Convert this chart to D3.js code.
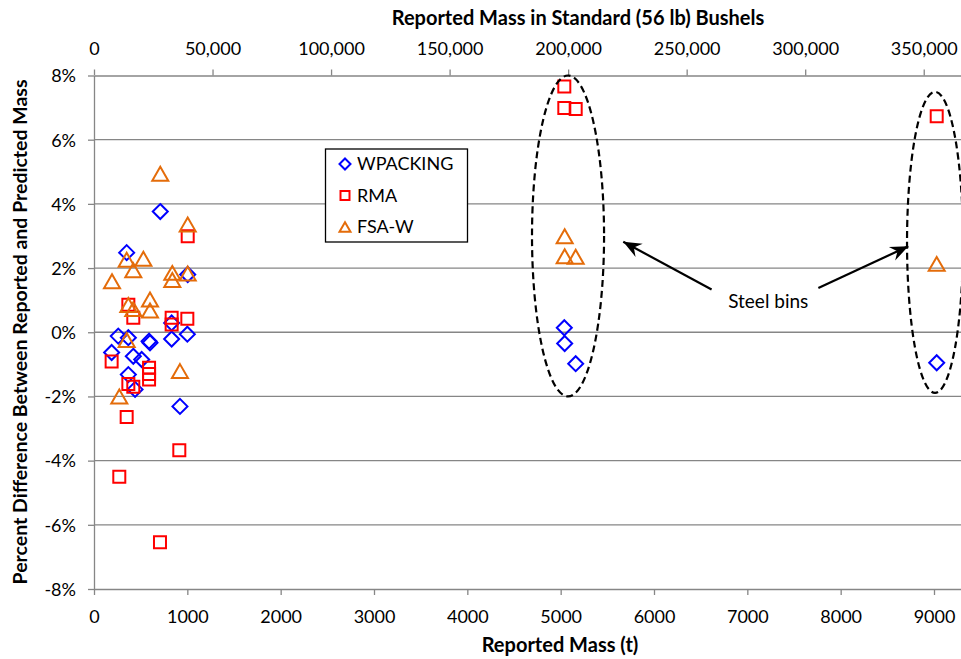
<!DOCTYPE html>
<html>
<head>
<meta charset="utf-8">
<script src="https://cdn.jsdelivr.net/npm/d3@7"></script>
<style>
  body { margin: 0; background: #fff; }
  text { font-family: Lato, "Open Sans", sans-serif; fill: #000; }
  .tick line, .domain { stroke: #868686; stroke-width: 1.3; }
</style>
</head>
<body>
<svg id="chart"></svg>
<script>
// ── Data: [reported mass (t), % difference reported vs predicted] ───────────
const wpacking = [
  [710, 3.76], [350, 2.48], [1004, 1.80], [832, 0.29], [832, -0.21],
  [1000, -0.06], [260, -0.12], [368, -0.17], [590, -0.28], [600, -0.33],
  [189, -0.63], [421, -0.75], [511, -0.85], [368, -1.32], [440, -1.78],
  [921, -2.31],
  [5039, 0.14], [5043, -0.35], [5161, -0.98], [9029, -0.95]
];
const rma = [
  [1004, 2.99], [368, 0.86], [421, 0.45], [832, 0.45], [832, 0.24],
  [1000, 0.42], [189, -0.91], [590, -1.11], [590, -1.30], [590, -1.47],
  [368, -1.61], [421, -1.70], [350, -2.64], [914, -3.68], [271, -4.50],
  [707, -6.54],
  [5039, 7.66], [5039, 6.99], [5161, 6.96], [9029, 6.73]
];
const fsaw = [
  [710, 4.94], [1004, 3.36], [350, 2.26], [529, 2.29], [421, 1.93],
  [193, 1.59], [839, 1.85], [839, 1.63], [1004, 1.83], [368, 0.85],
  [421, 0.72], [600, 1.02], [600, 0.68], [350, -0.24], [921, -1.21],
  [271, -2.00],
  [5043, 2.99], [5043, 2.37], [5161, 2.35], [9029, 2.13]
];

const xTicks     = d3.range(0, 9001, 1000);
const bushelTicks = d3.range(0, 350001, 50000);
const yTicks     = d3.range(-8, 9, 2);
const T_PER_BUSHEL = 0.0254;   // 56 lb bushel

// steel bin annotations: ellipse [cx, cy, rx(t), ry(%)], arrows [from, to]
const bins   = [[5079, 3.0, 386, 5.0], [9011, 2.8, 300, 4.69]];
const arrows = [[[6617, 1.33], [5671, 2.82]], [[7761, 1.38], [8725, 2.68]]];
const binLabel = [7224, 0.97, "Steel bins"];

// ── Layout ───────────────────────────────────────────────────────────────
const VW = 961, VH = 659;
const L = 94, R = 962, T = 75.5, B = 589;

const svg = d3.select("#chart").attr("width", VW).attr("height", VH);

const x    = d3.scaleLinear().domain([0, 9300]).range([L, R]);
const xTop = d3.scaleLinear().domain([0, 9300 / T_PER_BUSHEL]).range([L, R]);
const y    = d3.scaleLinear().domain([-8, 8]).range([B, T]);

// Grid
svg.append("g").selectAll("line")
  .data(yTicks.filter(d => d > -8 && d < 8))
  .join("line")
  .attr("x1", L).attr("x2", VW)
  .attr("y1", d => y(d)).attr("y2", d => y(d))
  .attr("stroke", "#868686").attr("stroke-width", 1.3);

// Axes
const gx = svg.append("g").attr("transform", `translate(0,${B})`)
  .call(d3.axisBottom(x).tickValues(xTicks).tickFormat(d3.format("d"))
    .tickSize(6).tickSizeOuter(0));
gx.selectAll("text").attr("y", 28).attr("dy", "0.35em");

const gt = svg.append("g").attr("transform", `translate(0,${T})`)
  .call(d3.axisTop(xTop).tickValues(bushelTicks).tickFormat(d3.format(","))
    .tickSize(6).tickSizeOuter(0));
gt.selectAll("text").attr("y", -26.5).attr("dy", "0.35em");

const gy = svg.append("g").attr("transform", `translate(${L},0)`)
  .call(d3.axisLeft(y).tickValues(yTicks).tickFormat(d => d + "%")
    .tickSize(6).tickSizeOuter(0));
gy.selectAll("text").attr("x", -18).attr("dy", "0.35em");

svg.selectAll(".tick text").attr("font-size", "18px")
  .style("font-family", "Lato, 'Open Sans', sans-serif").attr("fill", "#000");

// Axis titles
svg.append("text").attr("x", 578).attr("y", 18).attr("dy", "0.35em")
  .attr("text-anchor", "middle").attr("font-size", "20px").attr("font-weight", "bold")
  .text("Reported Mass in Standard (56 lb) Bushels");
svg.append("text").attr("x", 560).attr("y", 645).attr("dy", "0.35em")
  .attr("text-anchor", "middle").attr("font-size", "20px").attr("font-weight", "bold")
  .text("Reported Mass (t)");
svg.append("text").attr("transform", "rotate(-90)")
  .attr("x", -332).attr("y", 20).attr("dy", "0.35em")
  .attr("text-anchor", "middle").attr("font-size", "19.5px").attr("font-weight", "bold")
  .text("Percent Difference Between Reported and Predicted Mass");

// ── Markers ──────────────────────────────────────────────────────────────
const shape = {
  diamond: r => `M0,${-r}L${r},0L0,${r}L${-r},0Z`,
  square:  r => `M${-r},${-r}H${r}V${r}H${-r}Z`,
  triangle: r => `M0,${-r * 0.87}L${r},${r * 0.87}L${-r},${r * 0.87}Z`
};
const series = [
  { name: "WPACKING", data: wpacking, color: "#0000FF", kind: "diamond",  r: 7.5, lr: 5.5 },
  { name: "RMA",      data: rma,      color: "#FF0000", kind: "square",   r: 6,   lr: 4.5 },
  { name: "FSA-W",    data: fsaw,     color: "#E46C0A", kind: "triangle", r: 8,   lr: 5.5 }
];

series.forEach(s => {
  svg.append("g").selectAll("path")
    .data(s.data)
    .join("path")
    .attr("transform", d => `translate(${x(d[0])},${y(d[1])})`)
    .attr("d", shape[s.kind](s.r))
    .attr("fill", "none").attr("stroke", s.color).attr("stroke-width", 2);
});

// ── Steel bin annotation ─────────────────────────────────────────────────
svg.append("g").selectAll("ellipse")
  .data(bins)
  .join("ellipse")
  .attr("cx", d => x(d[0])).attr("cy", d => y(d[1]))
  .attr("rx", d => x(d[0] + d[2]) - x(d[0]))
  .attr("ry", d => y(d[1] - d[3]) - y(d[1]))
  .attr("fill", "none").attr("stroke", "#000")
  .attr("stroke-width", 2.2).attr("stroke-dasharray", "7 4");

svg.append("defs").append("marker")
  .attr("id", "head").attr("markerUnits", "userSpaceOnUse")
  .attr("viewBox", "-19 -9 20 18").attr("refX", 0).attr("refY", 0)
  .attr("markerWidth", 20).attr("markerHeight", 18).attr("orient", "auto")
  .append("path").attr("d", "M0,0L-18,-7.5L-12,0L-18,7.5Z").attr("fill", "#000");

svg.append("g").selectAll("line")
  .data(arrows)
  .join("line")
  .attr("x1", d => x(d[0][0])).attr("y1", d => y(d[0][1]))
  .attr("x2", d => x(d[1][0])).attr("y2", d => y(d[1][1]))
  .attr("stroke", "#000").attr("stroke-width", 2.2)
  .attr("marker-end", "url(#head)");

svg.append("text")
  .attr("x", x(binLabel[0])).attr("y", y(binLabel[1])).attr("dy", "0.35em")
  .attr("text-anchor", "middle").attr("font-size", "19px")
  .text(binLabel[2]);

// ── Legend ───────────────────────────────────────────────────────────────
const leg = svg.append("g").attr("transform", "translate(325.5,149)");
leg.append("rect").attr("width", 142).attr("height", 93)
  .attr("fill", "#fff").attr("stroke", "#000").attr("stroke-width", 1.3);
series.forEach((s, i) => {
  const row = leg.append("g").attr("transform", `translate(19.5,${15 + i * 31.5})`);
  row.append("path").attr("d", shape[s.kind](s.lr))
    .attr("fill", "none").attr("stroke", s.color).attr("stroke-width", 2);
  row.append("text").attr("x", 12).attr("dy", "0.35em")
    .attr("font-size", "18px").text(s.name);
});
</script>
</body>
</html>
